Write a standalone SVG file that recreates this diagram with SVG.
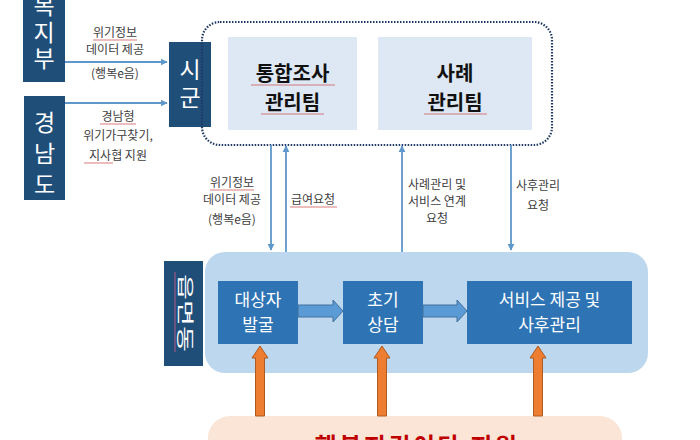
<svg xmlns="http://www.w3.org/2000/svg" width="700" height="440" viewBox="0 0 700 440">
<defs>
<style>
text{font-family:"Noto Sans CJK KR","Noto Sans",sans-serif;}
.navy{fill:#1f4e79;}
.vt{fill:#fff;font-size:23px;text-anchor:middle;}
.lbl{fill:#404040;font-size:12px;text-anchor:middle;}
.team{fill:#dde8f4;}
.tt{fill:#111;font-size:20px;font-weight:bold;text-anchor:middle;}
.step{fill:#2e74b5;}
.st{fill:#fff;font-size:17px;text-anchor:middle;}
.ln{stroke:#5e97c9;stroke-width:1.8;fill:none;}
.sq{stroke:#d05050;stroke-width:1;opacity:0.75;}
.barrow{fill:#5b9bd5;stroke:#41719c;stroke-width:1;}
.oarrow{fill:#ed7d31;stroke:#ae5a21;stroke-width:1;}
</style>
<marker id="ah" viewBox="0 0 10 10" refX="9" refY="5" markerWidth="4" markerHeight="4" orient="auto-start-reverse">
<path d="M0,0 L10,5 L0,10 z" fill="#5e97c9"/>
</marker>
</defs>
<rect width="700" height="440" fill="#fff"/>

<g id="bokjibu">
<rect class="navy" x="23" y="-2" width="42" height="84"/>
<text class="vt" x="44" y="14">복</text>
<text class="vt" x="44" y="41">지</text>
<text class="vt" x="44" y="67">부</text>
</g>

<g id="gyeongnamdo">
<rect class="navy" x="24" y="96" width="41" height="104"/>
<text class="vt" x="44.5" y="131">경</text>
<text class="vt" x="44.5" y="162">남</text>
<text class="vt" x="44.5" y="193">도</text>
</g>

<g id="sigun">
<rect class="navy" x="169" y="42" width="42" height="85"/>
<text class="vt" x="190" y="78">시</text>
<text class="vt" x="190" y="106">군</text>
</g>

<g id="city-teams">
<rect x="202" y="22" width="350" height="123" rx="18" fill="none" stroke="#1f3864" stroke-width="2.2" stroke-dasharray="1.5 1.5"/>
</g>

<g id="integrated-team">
<rect class="team" x="228" y="37" width="129" height="93"/>
<text class="tt" x="292.5" y="81">통합조사</text>
<text class="tt" x="292.5" y="110">관리팀</text>
<line class="sq" x1="251" y1="85" x2="335" y2="85"/>
<line class="sq" x1="261" y1="114" x2="324" y2="114"/>
</g>

<g id="case-team">
<rect class="team" x="378" y="37" width="154" height="93"/>
<text class="tt" x="455" y="81">사례</text>
<text class="tt" x="455" y="110">관리팀</text>
<line class="sq" x1="424" y1="114" x2="487" y2="114"/>
</g>

<g id="eupmyeondong-area">
<rect x="205" y="252" width="443" height="121" rx="20" fill="#bdd7ee"/>
</g>

<g id="eupmyeondong">
<rect class="navy" x="164" y="261" width="39" height="105"/>
<text transform="translate(179,274) rotate(90)" fill="#fff" font-size="17" textLength="78" lengthAdjust="spacingAndGlyphs">읍면동</text>
<line x1="175" y1="272" x2="175" y2="352" stroke="#b05a8a" stroke-width="1"/>
</g>

<g id="discover">
<rect class="step" x="218" y="281" width="80" height="63"/>
<text class="st" x="258" y="306">대상자</text>
<text class="st" x="258" y="331">발굴</text>
</g>

<g id="consult">
<rect class="step" x="343" y="281" width="80" height="63"/>
<text class="st" x="383" y="306">초기</text>
<text class="st" x="383" y="331">상담</text>
</g>

<g id="service">
<rect class="step" x="467" y="281" width="165" height="63"/>
<text class="st" x="549.5" y="306">서비스 제공 및</text>
<text class="st" x="549.5" y="331">사후관리</text>
</g>

<g id="happy-guardians">
<rect x="208" y="416" width="414" height="60" rx="22" fill="#fbe5d6"/>
<text x="417" y="455" fill="#c00000" font-size="24" font-weight="bold" text-anchor="middle" letter-spacing="2.5">행복지킴이단 지원</text>
</g>

<g id="connectors">
<line class="ln" x1="65" y1="62" x2="167" y2="62" marker-end="url(#ah)"/>
<line class="ln" x1="65" y1="103" x2="167" y2="103" marker-end="url(#ah)"/>
<line class="ln" x1="271" y1="145" x2="271" y2="250" marker-end="url(#ah)"/>
<line class="ln" x1="286" y1="252" x2="286" y2="146" marker-end="url(#ah)"/>
<line class="ln" x1="402" y1="252" x2="402" y2="146" marker-end="url(#ah)"/>
<line class="ln" x1="511" y1="145" x2="511" y2="250" marker-end="url(#ah)"/>
<path class="barrow" d="M298,305 H333 V300 L343,311 L333,322 V317 H298 Z"/>
<path class="barrow" d="M423,305 H457 V300 L467,311 L457,322 V317 H423 Z"/>
<path class="oarrow" d="M255.5,416 V358 H252 L260,346 L268,358 H264.5 V416 Z"/>
<path class="oarrow" d="M377.5,416 V358 H374 L382,346 L390,358 H386.5 V416 Z"/>
<path class="oarrow" d="M533.5,416 V358 H530 L538,346 L546,358 H542.5 V416 Z"/>
</g>

<g id="labels">
<text class="lbl" x="115" y="37">위기정보</text>
<text class="lbl" x="115" y="54">데이터 제공</text>
<text class="lbl" x="115" y="78">(행복e음)</text>
<line class="sq" x1="93" y1="40" x2="137" y2="40"/>
<text class="lbl" x="118" y="121">경남형</text>
<text class="lbl" x="118" y="140">위기가구찾기,</text>
<text class="lbl" x="118" y="160">지사협 지원</text>
<line class="sq" x1="100" y1="124" x2="136" y2="124"/>
<line class="sq" x1="84" y1="163" x2="113" y2="163"/>
<text class="lbl" x="232" y="187">위기정보</text>
<text class="lbl" x="232" y="204">데이터 제공</text>
<text class="lbl" x="232" y="224">(행복e음)</text>
<line class="sq" x1="210" y1="190" x2="254" y2="190"/>
<text class="lbl" x="313" y="204">급여요청</text>
<line class="sq" x1="290" y1="207" x2="337" y2="207"/>
<text class="lbl" x="437" y="189">사례관리 및</text>
<text class="lbl" x="437" y="206">서비스 연계</text>
<text class="lbl" x="437" y="223">요청</text>
<text class="lbl" x="538" y="190">사후관리</text>
<text class="lbl" x="538" y="210">요청</text>
</g>
</svg>
